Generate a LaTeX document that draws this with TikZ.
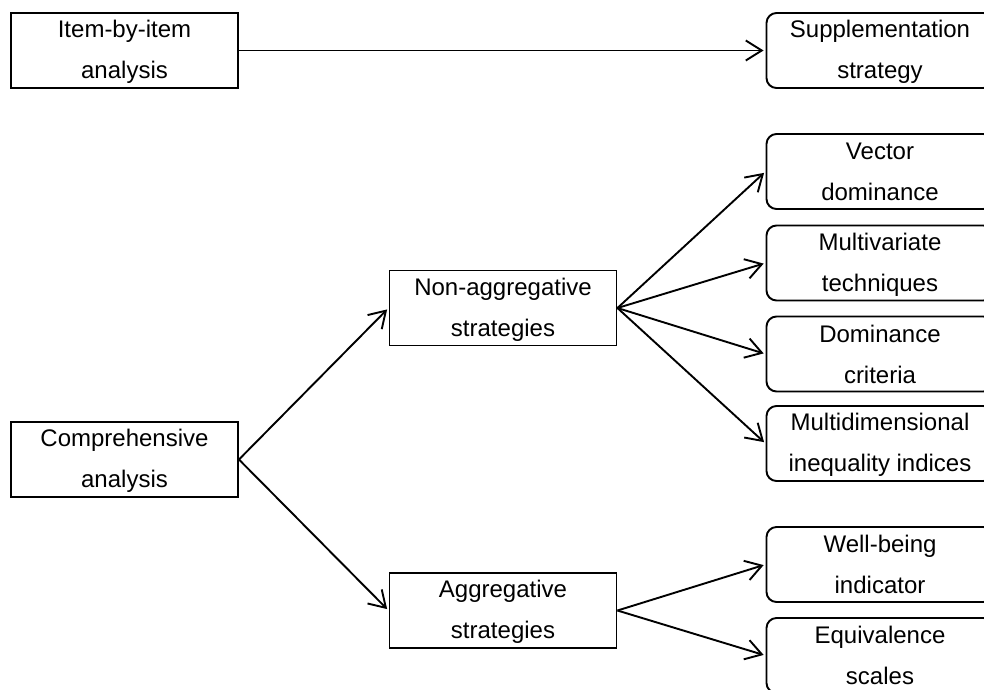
\documentclass[tikz,border=0pt]{standalone}
\usepackage{fontspec}
\setmainfont{Liberation Sans}
\usetikzlibrary{arrows.meta}
\newcommand\mystr{\rule[-3pt]{0pt}{23pt}}
\tikzset{
  box/.style={draw, line width=1.9pt, minimum width=227pt, minimum height=75pt, inner sep=0pt, align=center, font=\fontsize{24}{41}\selectfont},
  rbox/.style={box, rounded corners=10pt},
  conn/.style={line width=1.9pt, shorten >=2pt, -{Straight Barb[length=16pt, width=20pt, line width=1.9pt]}}
}
\begin{document}
\begin{tikzpicture}[x=1pt, y=-1pt]
\useasboundingbox (0,0) rectangle (984,689);
\node[box] (item) at (124.5,50.5) {\mystr Item-by-item\\analysis\mystr};
\node[rbox] (supp) at (880,50.5) {\mystr Supplementation\\strategy\mystr};
\node[box] (comp) at (124.5,459.5) {\mystr Comprehensive\\analysis\mystr};
\node[box] (nonagg) at (503,308) {\mystr Non-aggregative\\strategies\mystr};
\node[box] (agg) at (503,610.5) {\mystr Aggregative\\strategies\mystr};
\node[rbox] (vec) at (880,171.5) {\mystr Vector\\dominance\mystr};
\node[rbox] (mult) at (880,263) {\mystr Multivariate\\techniques\mystr};
\node[rbox] (domc) at (880,354) {\mystr Dominance\\criteria\mystr};
\node[rbox] (mdi) at (880,443.5) {\mystr Multidimensional\\inequality indices\mystr};
\node[rbox] (wb) at (880,564.5) {\mystr Well-being\\indicator\mystr};
\node[rbox] (eq) at (880,655.5) {\mystr Equivalence\\scales\mystr};
\draw[conn] (item.east) -- (supp.west);
\draw[conn] (comp.east) -- (nonagg.west);
\draw[conn] (comp.east) -- (agg.west);
\draw[conn] (nonagg.east) -- (vec.west);
\draw[conn] (nonagg.east) -- (mult.west);
\draw[conn] (nonagg.east) -- (domc.west);
\draw[conn] (nonagg.east) -- (mdi.west);
\draw[conn] (agg.east) -- (wb.west);
\draw[conn] (agg.east) -- (eq.west);
\end{tikzpicture}
\end{document}
